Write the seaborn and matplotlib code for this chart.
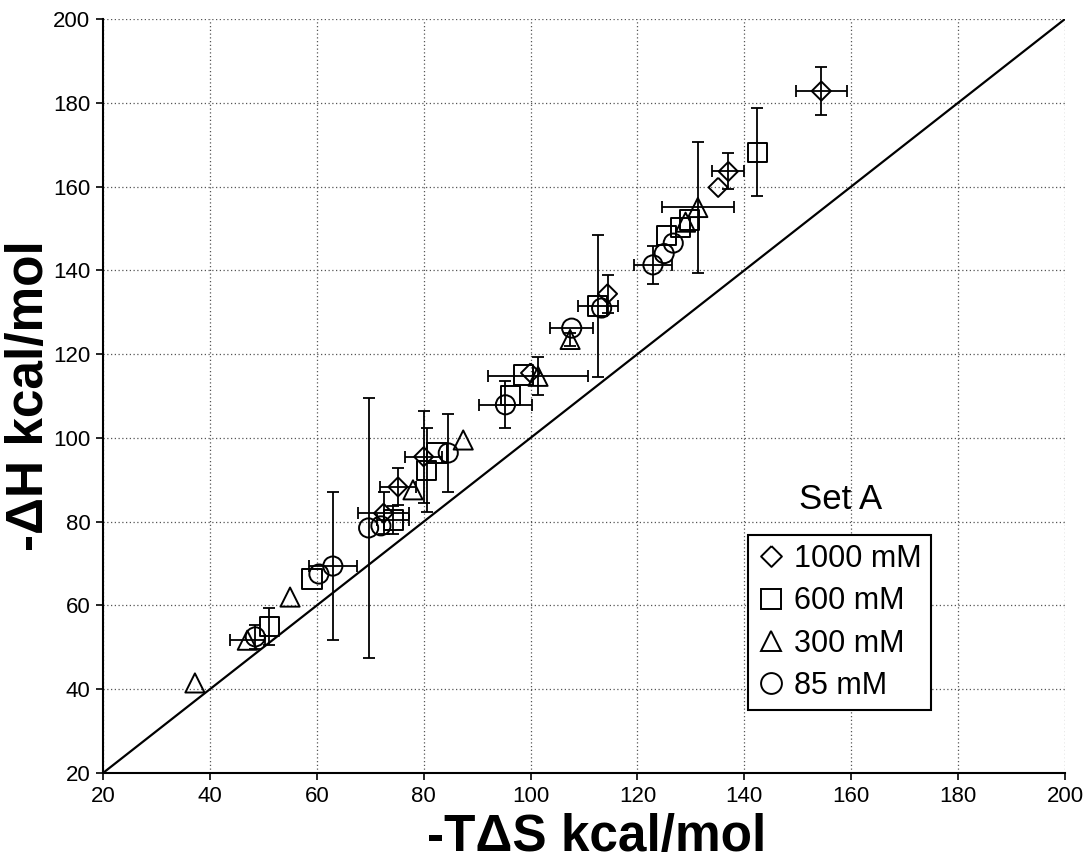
import numpy as np
import pandas as pd
import matplotlib
matplotlib.use("Agg")
import matplotlib.pyplot as plt
from matplotlib.lines import Line2D
import seaborn as sns

# -TΔS (x) and -ΔH (y) in kcal/mol, with error estimates, per salt concentration
x_1000 = [72.5, 75.2, 80.0, 100.0, 114.4, 135.1, 137.0, 154.4]
y_1000 = [82.0, 88.3, 95.5, 115.5, 134.4, 159.8, 163.6, 182.8]
xe_1000 = [4.8, 3.3, 3.5, np.nan, np.nan, np.nan, 3.0, 4.8]
ye_1000 = [5.0, 4.4, 11.0, np.nan, 4.5, np.nan, 4.3, 5.8]

x_600 = [51.1, 59.1, 74.3, 80.6, 82.5, 96.2, 98.6, 112.6, 125.5, 128.0, 129.8, 142.4]
y_600 = [55.0, 66.3, 80.4, 92.3, 96.4, 110.2, 115.0, 131.5, 148.4, 150.3, 152.0, 168.2]
xe_600 = [np.nan, np.nan, 3.0, np.nan, np.nan, np.nan, np.nan, 3.8, np.nan, np.nan, np.nan, np.nan]
ye_600 = [4.5, np.nan, 3.4, 10.0, np.nan, np.nan, np.nan, 17.0, np.nan, np.nan, np.nan, 10.5]

x_300 = [37.2, 47.0, 55.0, 78.0, 87.4, 101.4, 107.4, 129.0, 131.3]
y_300 = [41.5, 51.7, 62.0, 87.6, 99.5, 114.7, 123.5, 151.5, 155.0]
xe_300 = [np.nan, 3.3, np.nan, np.nan, np.nan, 9.4, np.nan, np.nan, 6.7]
ye_300 = [np.nan, np.nan, np.nan, np.nan, np.nan, 4.5, 1.5, np.nan, 15.7]

x_85 = [48.5, 60.4, 63.0, 69.7, 72.0, 84.6, 95.3, 107.7, 113.3, 122.9, 126.7, 125.0]
y_85 = [52.5, 67.5, 69.4, 78.5, 79.0, 96.4, 107.9, 126.2, 131.0, 141.3, 146.5, 144.0]
xe_85 = [np.nan, np.nan, 4.5, np.nan, np.nan, np.nan, 4.9, 4.0, np.nan, 3.6, np.nan, np.nan]
ye_85 = [2.8, np.nan, 17.7, 31.0, np.nan, 9.3, 5.6, np.nan, np.nan, 4.5, np.nan, np.nan]

labels = ["1000 mM", "600 mM", "300 mM", "85 mM"]
ticks = [20, 40, 60, 80, 100, 120, 140, 160, 180, 200]
diag = [20, 200]

frames = []
for lab, xs, ys, xe, ye in [
    (labels[0], x_1000, y_1000, xe_1000, ye_1000),
    (labels[1], x_600, y_600, xe_600, ye_600),
    (labels[2], x_300, y_300, xe_300, ye_300),
    (labels[3], x_85, y_85, xe_85, ye_85),
]:
    frames.append(pd.DataFrame({"x": xs, "y": ys, "xerr": xe, "yerr": ye, "conc": lab}))
df = pd.concat(frames, ignore_index=True)

sns.set_style("ticks")
plt.rcParams["font.family"] = ["Liberation Sans", "DejaVu Sans"]
plt.rcParams["text.color"] = "black"
plt.rcParams["axes.labelcolor"] = "black"

diamond = [(0, 1), (1, 0), (0, -1), (-1, 0), (0, 1)]
markers = {labels[0]: diamond, labels[1]: "s", labels[2]: "^", labels[3]: "o"}

fig = plt.figure(figsize=(10.89, 8.63), dpi=100)
ax = fig.add_axes([103 / 1089, 1 - 773 / 863, 962 / 1089, 754 / 863])

# y = x reference line
sns.lineplot(x=diag, y=diag, color="black", linewidth=1.6, ax=ax, zorder=2)

# error bars
ax.errorbar(df["x"], df["y"], xerr=df["xerr"], yerr=df["yerr"], fmt="none",
            ecolor="black", elinewidth=1.3, capsize=4, capthick=1.3, zorder=3)

# hollow markers
sns.scatterplot(data=df, x="x", y="y", style="conc", markers=markers,
                s=190, facecolor="none", edgecolor="black", linewidth=1.4,
                legend=False, ax=ax, zorder=4)

ax.set_xlim(20, 200)
ax.set_ylim(20, 200)
ax.set_xticks(ticks)
ax.set_yticks(ticks)
ax.tick_params(axis="both", direction="out", length=5, width=1.2,
               labelsize=16, colors="black", labelcolor="black", pad=4)
ax.grid(True, color="#555555", linestyle=(0, (1, 2)), linewidth=0.9)
ax.set_axisbelow(True)
for side in ["top", "right"]:
    ax.spines[side].set_visible(False)
for side in ["left", "bottom"]:
    ax.spines[side].set_linewidth(1.5)
    ax.spines[side].set_color("black")

ax.set_xlabel("-T\u0394S kcal/mol", fontsize=37, fontweight="bold", va="center",
              color="black")
ax.xaxis.set_label_coords(0.513, -0.085)
ax.set_ylabel("-\u0394H kcal/mol", fontsize=37, fontweight="bold", va="center",
              ha="center", color="black")
ax.yaxis.set_label_coords(-0.076, 0.5)

handles = [
    Line2D([], [], linestyle="none", marker=markers[lab], markersize=15,
           markerfacecolor="none", markeredgecolor="black", markeredgewidth=1.4)
    for lab in labels
]
leg = fig.legend(handles, labels, loc="upper left",
                 bbox_to_anchor=(748 / 1089, 1 - 535 / 863),
                 fontsize=22, frameon=True, fancybox=False, framealpha=1,
                 edgecolor="black", borderpad=0.3, labelspacing=0.4,
                 handlelength=0.9, handletextpad=0.3, borderaxespad=0)
leg.get_frame().set_linewidth(1.5)
for t in leg.get_texts():
    t.set_color("black")

fig.text(841 / 1089, 1 - 499 / 863, "Set A", fontsize=25, ha="center", va="center",
         color="black")

fig.savefig("out.png", dpi=100, facecolor="white")
